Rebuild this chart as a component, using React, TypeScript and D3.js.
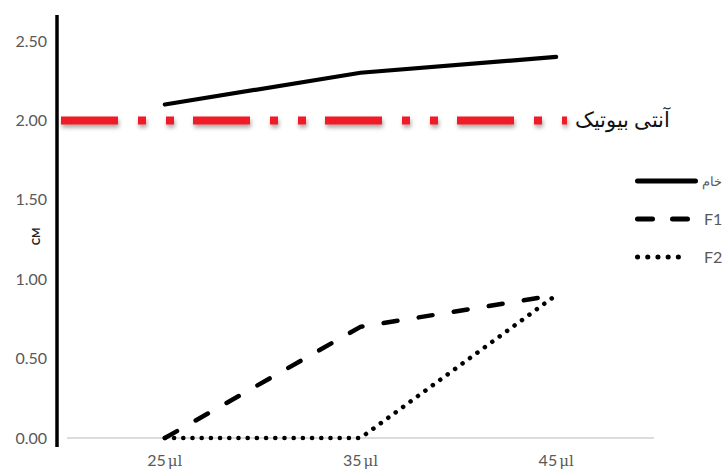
import React from "react";
import * as d3 from "d3";

const categories = ["25", "35", "45"];
const rawValues = [2.1, 2.3, 2.4];
const f1Values = [0, 0.7, 0.9];
const f2Values = [0, 0, 0.9];
const antibioticValue = 2.0;
const yTicks = [0, 0.5, 1, 1.5, 2, 2.5];
const seriesNames = ["خام", "F1", "F2"];
const antibioticLabel = "آنتی بیوتیک";

export default function App() {
  const W = 728, H = 475;
  const x = d3.scaleBand<string>().domain(categories).range([67, 654]);
  const cx = (c: string) => x(c)! + x.bandwidth() / 2;
  const y = d3.scaleLinear().domain([0, 2.5]).range([438, 41]);
  const line = d3.line<number>().x((_, i) => cx(categories[i])).y((d) => y(d));
  const styles = [
    { dash: undefined, width: 4.2, cap: "round" },
    { dash: "14 21.5", width: 4.5, cap: "round" },
    { dash: "0.1 9.1", width: 4.5, cap: "round" },
  ];
  const legendStyles = [
    { dash: undefined, x1: 637.5, x2: 695.5, width: 5 },
    { dash: "15 20", x1: 637.5, x2: 687.5, width: 5 },
    { dash: "0.1 10.1", x1: 637.5, x2: 688.5, width: 5 },
  ];
  const series = [rawValues, f1Values, f2Values];
  const font = "Lato, 'Open Sans', sans-serif";
  return (
    <div style={{ position: "absolute", left: 0, top: 0 }}>
      <svg width={W} height={H} style={{ display: "block" }}>
        <defs>
          <filter id="sh" filterUnits="userSpaceOnUse" x={40} y={90} width={560} height={60}>
            <feDropShadow dx="1" dy="3" stdDeviation="2" floodColor="#000" floodOpacity="0.35" />
          </filter>
        </defs>
        <rect width={W} height={H} fill="#fff" />
        {/* baseline */}
        <line x1={67} x2={654} y1={y(0)} y2={y(0)} stroke="#d0d0d0" strokeWidth={1.3} />
        {/* y axis */}
        <line x1={57} x2={57} y1={15} y2={447} stroke="#000" strokeWidth={3.5} />
        {yTicks.map((t) => (
          <text key={t} x={47} y={y(t)} dy="0.35em" textAnchor="end" fontFamily={font} fontSize={16} fill="#595959">
            {t.toFixed(2)}
          </text>
        ))}
        <text transform={`translate(40,${y(1.27)}) rotate(-90)`} textAnchor="middle" fontFamily={font} fontSize={11} fontWeight="bold" fill="#222">
          CM
        </text>
        {categories.map((c) => (
          <text key={c} x={cx(c)} y={466} textAnchor="middle" fontFamily={font} fontSize={16} fill="#595959">
            {c}
            <tspan fontFamily="'DejaVu Serif', serif" fontSize={15} dx={2}>μl</tspan>
          </text>
        ))}
        {/* antibiotic reference line */}
        <line
          x1={61}
          x2={567}
          y1={y(antibioticValue)}
          y2={y(antibioticValue)}
          stroke="#ee1c25"
          strokeWidth={8}
          strokeDasharray="57 20 8 20 8 19"
          filter="url(#sh)"
        />
        <text x={575} y={y(antibioticValue)} dy="0.3em" fontFamily="'Noto Sans', sans-serif" fontSize={20.5} fill="#111" textAnchor="start">
          {antibioticLabel}
        </text>
        {series.map((s, i) => (
          <path
            key={i}
            d={line(s)!}
            fill="none"
            stroke="#000"
            strokeWidth={styles[i].width}
            strokeDasharray={styles[i].dash}
            strokeLinecap={styles[i].cap as any}
          />
        ))}
        {/* legend */}
        {seriesNames.map((n, i) => {
          const ly = 181 + i * 38;
          const ls = legendStyles[i];
          return (
            <g key={n}>
              <line
                x1={ls.x1}
                x2={ls.x2}
                y1={ly}
                y2={ly}
                stroke="#000"
                strokeWidth={ls.width}
                strokeDasharray={ls.dash}
                strokeLinecap="round"
              />
              <text x={i === 0 ? 702 : 704} y={ly} dy="0.35em" fontFamily={i === 0 ? "'Noto Sans', sans-serif" : font} fontSize={i === 0 ? 13 : 16} fill="#595959">
                {n}
              </text>
            </g>
          );
        })}
      </svg>
    </div>
  );
}
